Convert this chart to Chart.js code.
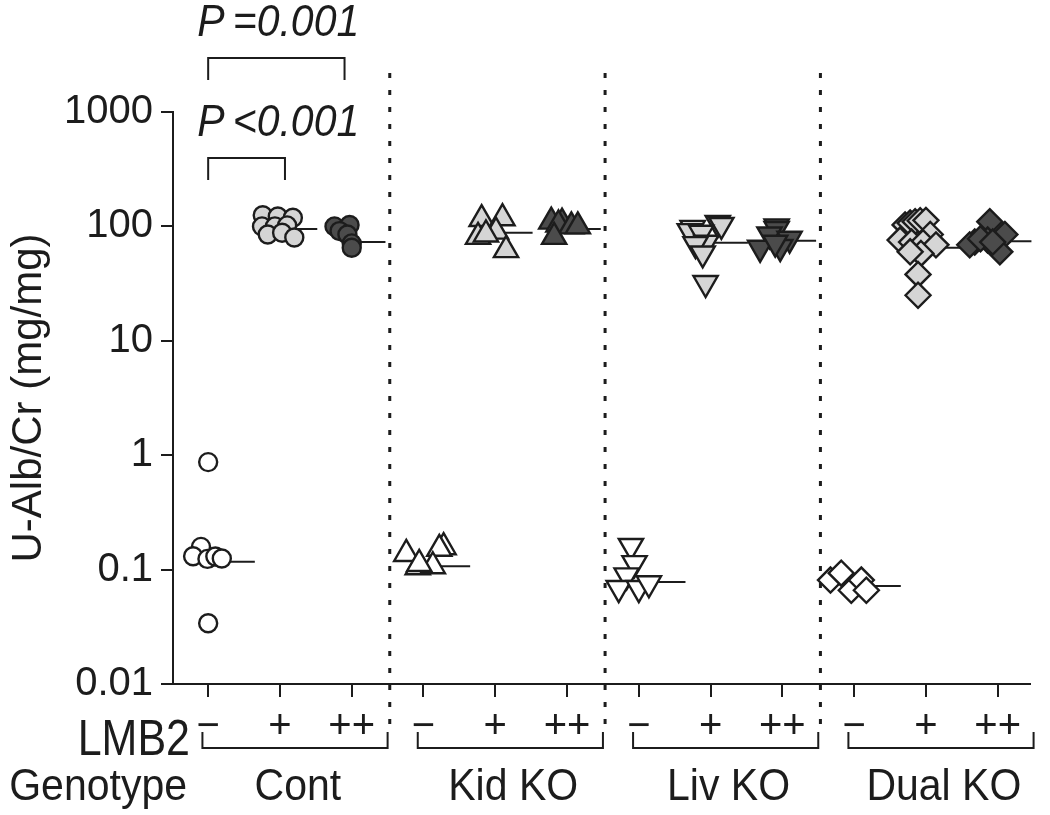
<!DOCTYPE html>
<html>
<head>
<meta charset="utf-8">
<script src="https://cdn.jsdelivr.net/npm/chart.js@4.4.1/dist/chart.umd.min.js"></script>
<style>
    html, body { margin: 0; padding: 0; background: #fff; }
</style>
</head>
<body>
<canvas id="albChart" width="1050" height="815"></canvas>
<script>
// Categories
const genotypes = ['Cont', 'Kid KO', 'Liv KO', 'Dual KO'];
const lmb2Labels = ['\u2212', '+', '++'];
const yTicks = [0.01, 0.1, 1, 10, 100, 1000];

// U-Alb/Cr values (mg/mg) per group, with horizontal jitter (in category units)
const contNeg = [0.87, 0.158, 0.131, 0.124, 0.13, 0.125, 0.034];
const contNegX = [0, -0.1, -0.21, -0.01, 0.1, 0.19, 0];
const contPlus = [125, 122, 119, 100, 100, 102, 85, 88, 80];
const contPlusX = [-0.24, -0.03, 0.18, -0.25, -0.07, 0.1, -0.17, 0.03, 0.2];
const contPP = [100, 103, 91, 85, 71, 65];
const contPPX = [-0.24, -0.03, -0.17, -0.06, 0, 0];

const kidNeg = [0.137, 0.157, 0.152, 0.105, 0.107, 0.112];
const kidNegX = [-0.24, 0.28, 0.22, -0.08, 0.13, -0.06];
const kidPlus = [116, 118, 90, 81, 62, 85];
const kidPlusX = [-0.19, 0.1, 0.01, -0.24, 0.15, -0.13];
const kidPP = [110, 108, 104, 100, 100, 81];
const kidPPX = [-0.22, -0.07, -0.12, 0.06, 0.15, -0.18];

const livNeg = [0.161, 0.114, 0.089, 0.069, 0.069, 0.076];
const livNegX = [-0.11, -0.06, -0.17, -0.28, 0, 0.14];
const livPlus = [107, 103, 97, 91, 88, 72, 70, 58, 32];
const livPlusX = [0.1, 0.15, -0.25, -0.29, -0.13, -0.06, -0.21, -0.11, -0.07];
const livPP = [100, 95, 85, 78, 65, 66, 72];
const livPPX = [-0.08, -0.08, -0.18, 0.1, -0.31, -0.03, -0.1];

const dualNeg = [0.081, 0.093, 0.066, 0.081, 0.066];
const dualNegX = [-0.33, -0.18, -0.04, 0.1, 0.17];
const dualPlus = [103, 107, 110, 112, 113, 85, 76, 73, 72, 69, 58, 60, 38, 25];
const dualPlusX = [-0.29, -0.22, -0.15, -0.08, 0, 0.06, -0.36, -0.2, -0.04, 0.14, -0.07, -0.22, -0.11, -0.11];
const dualPP = [110, 73, 69, 76, 85, 60, 78, 73];
const dualPPX = [-0.11, -0.32, -0.39, -0.14, 0.1, 0.03, -0.24, -0.07];

// Median per group, same order as above
const medians = [0.117, 95, 73, 0.107, 88, 95, 0.078, 72, 75, 0.072, 65, 74];

// Significance brackets: [from, to] in category units, with their labels
const comparisons = [[0, 1.9], [0, 1.07]];
const pLabels = ['P\u2009=0.001', 'P\u2009<0.001'];

const groupValues = [contNeg, contPlus, contPP, kidNeg, kidPlus, kidPP, livNeg, livPlus, livPP, dualNeg, dualPlus, dualPP];
const groupOffsets = [contNegX, contPlusX, contPPX, kidNegX, kidPlusX, kidPPX, livNegX, livPlusX, livPPX, dualNegX, dualPlusX, dualPPX];

const ink = '#1c1c1c';
const fontFamily = "'Liberation Sans', Arial, Helvetica, sans-serif";
const fills = ['#ffffff', '#d5d5d5', '#4b4b4b'];
const medianReach = [0.65, 0.52, 0.47];
const shapes = [
    { style: 'circle', rotation: 0, radius: 9 },
    { style: 'triangle', rotation: 0, radius: 14 },
    { style: 'triangle', rotation: 180, radius: 14 },
    { style: 'rectRot', rotation: 0, radius: 12.5 }
];

const datasets = [];
groupValues.forEach((vals, i) => {
    const shape = shapes[Math.floor(i / 3)];
    datasets.push({
        type: 'scatter',
        data: vals.map((v, k) => ({ x: i + groupOffsets[i][k], y: v })),
        pointStyle: shape.style,
        rotation: shape.rotation,
        pointRadius: shape.radius,
        pointHoverRadius: shape.radius,
        backgroundColor: fills[i % 3],
        borderColor: ink,
        borderWidth: 2.4,
        clip: false,
        order: 0
    });
    datasets.push({
        type: 'line',
        data: [{ x: i - 0.1, y: medians[i] }, { x: i + medianReach[i % 3], y: medians[i] }],
        borderColor: ink,
        borderWidth: 2,
        pointRadius: 0,
        clip: false,
        order: 1
    });
});

// text slightly stretched vertically, like the original figure lettering
function tallText(ctx, text, x, y, sy) {
    ctx.save();
    ctx.translate(x, y);
    ctx.scale(1, sy);
    ctx.fillText(text, 0, 0);
    ctx.restore();
}

// Extra drawing: separators, brackets, p-values, LMB2 / Genotype rows
const annotations = {
    id: 'annotations',
    afterDraw(chart) {
        const { ctx, chartArea, scales: { x } } = chart;
        const top = chartArea.top, bottom = chartArea.bottom;
        ctx.save();
        ctx.strokeStyle = ink;
        ctx.fillStyle = ink;

        // dotted separators between genotypes
        ctx.lineWidth = 3;
        ctx.setLineDash([5, 12]);
        [1, 2, 3].forEach(g => {
            const px = x.getPixelForValue(g * 3 - 0.47);
            ctx.beginPath();
            ctx.moveTo(px, top - 39);
            ctx.lineTo(px, bottom + 42);
            ctx.stroke();
        });
        ctx.setLineDash([]);

        // significance brackets
        ctx.lineWidth = 2;
        ctx.font = 'italic 41px ' + fontFamily;
        ctx.textAlign = 'left';
        ctx.textBaseline = 'middle';
        const bracketTops = [top - 54, top + 46];
        comparisons.forEach((c, k) => {
            const x1 = x.getPixelForValue(c[0]), x2 = x.getPixelForValue(c[1]);
            const by = bracketTops[k];
            ctx.beginPath();
            ctx.moveTo(x1, by + 22);
            ctx.lineTo(x1, by);
            ctx.lineTo(x2, by);
            ctx.lineTo(x2, by + 22);
            ctx.stroke();
            tallText(ctx, pLabels[k], x1 - 11, by - 35, 1.1);
        });

        // genotype brackets
        const gy = bottom + 64;
        genotypes.forEach((g, k) => {
            const x1 = x.getPixelForValue(k * 3 - 0.08), x2 = x.getPixelForValue(k * 3 + 2.5);
            ctx.beginPath();
            ctx.moveTo(x1, gy - 16);
            ctx.lineTo(x1, gy);
            ctx.lineTo(x2, gy);
            ctx.lineTo(x2, gy - 16);
            ctx.stroke();
        });

        // row labels
        ctx.textAlign = 'right';
        ctx.font = '43px ' + fontFamily;
        tallText(ctx, 'LMB2', 190, bottom + 57, 1.15);
        ctx.font = '41px ' + fontFamily;
        tallText(ctx, 'Genotype', 187, bottom + 104, 1.1);
        ctx.textAlign = 'center';
        genotypes.forEach((g, k) => {
            tallText(ctx, g, x.getPixelForValue(k * 3 + 1.25), bottom + 104, 1.1);
        });
        ctx.restore();
    }
};

const chart = new Chart(document.getElementById('albChart').getContext('2d'), {
    data: { datasets },
    options: {
        responsive: false,
        animation: false,
        devicePixelRatio: 1,
        layout: { padding: { top: 112, right: 20, left: 0, bottom: 0 } },
        plugins: {
            legend: { display: false },
            tooltip: { enabled: false }
        },
        scales: {
            x: {
                type: 'linear',
                min: -0.49,
                max: 11.45,
                afterBuildTicks: s => { s.ticks = groupValues.map((_, i) => ({ value: i })); },
                afterFit: s => { s.height = 131; },
                ticks: {
                    autoSkip: false,
                    maxRotation: 0,
                    padding: 6,
                    color: ink,
                    font: { family: fontFamily, size: 40 },
                    callback: v => lmb2Labels[v % 3]
                },
                grid: { drawOnChartArea: false, drawTicks: true, tickLength: 13, color: ink, lineWidth: 2 },
                border: { color: ink, width: 2 }
            },
            y: {
                type: 'logarithmic',
                min: 0.01,
                max: 1000,
                afterBuildTicks: s => { s.ticks = yTicks.map(v => ({ value: v })); },
                afterFit: s => { s.width = 173; },
                ticks: {
                    padding: 8,
                    color: ink,
                    font: { family: fontFamily, size: 40 },
                    callback: v => String(v)
                },
                grid: { drawOnChartArea: false, drawTicks: true, tickLength: 12, color: ink, lineWidth: 2 },
                border: { color: ink, width: 2 },
                title: {
                    display: true,
                    text: 'U-Alb/Cr (mg/mg)',
                    color: ink,
                    font: { family: fontFamily, size: 42 },
                    padding: { top: 4, bottom: 0 }
                }
            }
        }
    },
    plugins: [annotations]
});
</script>
</body>
</html>
